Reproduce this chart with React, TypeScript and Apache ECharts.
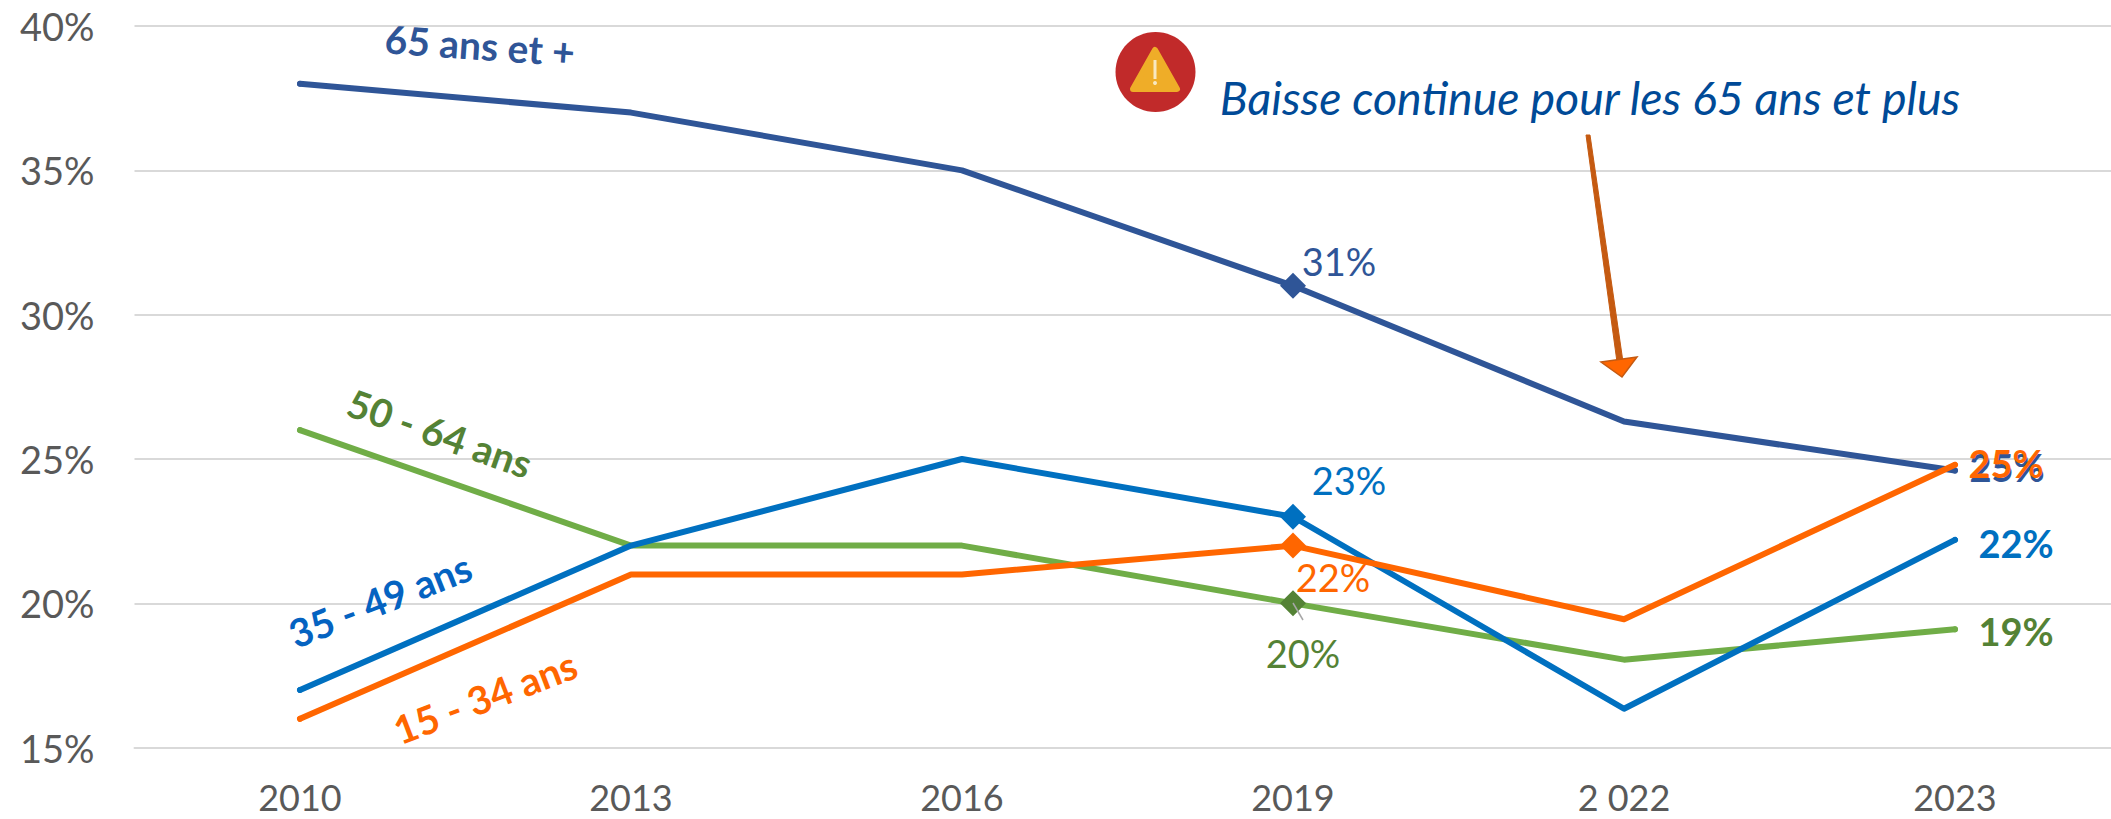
import React, { useEffect, useRef } from "react";
import * as echarts from "echarts";

const categories = ["2010", "2013", "2016", "2019", "2 022", "2023"];
const yTicks = { min: 15, max: 40, interval: 5 };
const seniors = [38, 37, 35, 31, 26.3, 24.6];
const age3549 = [17, 22, 25, 23, 16.35, 22.2];
const age5064 = [26, 22, 22, 20, 18.05, 19.1];
const age1534 = [16, 21, 21, 22, 19.45, 24.8];
const seriesNames = ["65 ans et +", "50 - 64 ans", "35 - 49 ans", "15 - 34 ans"];
const callout = "Baisse continue pour les 65 ans et plus";

const FONT = "Lato";
const FS = 38;

function pts(
  values: number[],
  lineColor: string,
  textColor: string,
  mid: [number, number],
  end: [number, number]
) {
  return values.map((v, i) => {
    if (i === 3)
      return {
        value: v,
        symbol: "diamond",
        symbolSize: 26,
        itemStyle: { color: textColor },
        label: { show: true, position: "inside", offset: mid, color: textColor, fontFamily: FONT, fontSize: FS, formatter: (p: any) => Math.round(p.value) + "%" },
      };
    if (i === 5)
      return {
        value: v,
        symbol: "circle",
        symbolSize: 6,
        itemStyle: { color: lineColor },
        label: { show: true, position: "inside", offset: end, color: textColor, fontFamily: FONT, fontSize: FS, fontWeight: "bold", formatter: (p: any) => Math.round(p.value) + "%" },
      };
    if (i === 0) return { value: v, symbol: "circle", symbolSize: 6, itemStyle: { color: lineColor } };
    return { value: v, symbol: "none" };
  });
}

function line(name: string, data: any[], color: string, z: number) {
  return {
    type: "line",
    name,
    data,
    z,
    clip: false,
    showAllSymbol: true,
    lineStyle: { color, width: 6, cap: "round", join: "round" },
    itemStyle: { color },
  };
}

function nameText(text: string, x: number, y: number, deg: number, fill: string) {
  return {
    type: "text",
    x,
    y,
    rotation: (deg * Math.PI) / 180,
    z: 20,
    style: { text, fill, fontFamily: FONT, fontSize: 39, fontWeight: "bold", textAlign: "center", textVerticalAlign: "middle" },
  };
}

export default function App() {
  const ref = useRef<HTMLDivElement>(null);
  useEffect(() => {
    document.body.style.margin = "0";
    const chart = echarts.init(ref.current!, null, { renderer: "svg" });
    chart.setOption({
      animation: false,
      backgroundColor: "#ffffff",
      grid: { left: 134.5, top: 26, width: 1986, height: 721.7, outerBoundsMode: "none", containLabel: false },
      xAxis: {
        type: "category",
        data: categories,
        boundaryGap: true,
        axisLine: { show: true, lineStyle: { color: "#D9D9D9", width: 2 } },
        axisTick: { show: false },
        axisLabel: { color: "#595959", fontFamily: FONT, fontSize: 36, lineHeight: 36, margin: 31, interval: 0 },
      },
      yAxis: {
        type: "value",
        min: yTicks.min,
        max: yTicks.max,
        interval: yTicks.interval,
        axisLine: { show: false },
        axisTick: { show: false },
        splitLine: { lineStyle: { color: "#D9D9D9", width: 2 } },
        axisLabel: { color: "#595959", fontFamily: FONT, fontSize: FS, margin: 40, formatter: "{value}%" },
      },
      series: [
        line(seriesNames[2], pts(age3549, "#0070C0", "#0070C0", [56, -37], [61, 3]), "#0070C0", 3),
        line(seriesNames[1], pts(age5064, "#70AD47", "#548235", [10, 50], [61, 2]), "#70AD47", 2),
        line(seriesNames[0], pts(seniors, "#2F5597", "#2F5597", [46, -25], [52, -4]), "#2F5597", 4),
        line(seriesNames[3], pts(age1534, "#FF6600", "#FF6600", [40, 31], [51, -2]), "#FF6600", 5),
      ],
      graphic: {
        elements: [
          nameText(seriesNames[0], 480, 45, -4, "#2F5597"),
          nameText(seriesNames[1], 440, 433, -19.5, "#548235"),
          nameText(seriesNames[2], 380, 600, 21.5, "#0563C1"),
          nameText(seriesNames[3], 485, 697, 21, "#FF6600"),
          {
            type: "line",
            z: 20,
            shape: { x1: 1293, y1: 603, x2: 1303, y2: 620 },
            style: { stroke: "#A6A6A6", lineWidth: 1.5 },
          },
          { type: "ellipse", z: 20, shape: { cx: 1155.5, cy: 72, rx: 40, ry: 40 }, style: { fill: "#C12A2A" } },
          {
            type: "polygon",
            z: 21,
            shape: { points: [[1155, 50], [1177, 89], [1133, 89]] },
            style: { fill: "#EFAD28", stroke: "#EFAD28", lineWidth: 6, lineJoin: "round" },
          },
          { type: "rect", z: 22, shape: { x: 1153.5, y: 60, width: 3, height: 19 }, style: { fill: "#F8E8C0" } },
          { type: "circle", z: 22, shape: { cx: 1155, cy: 83, r: 2 }, style: { fill: "#F8E8C0" } },
          {
            type: "text",
            z: 20,
            x: 1590,
            y: 97,
            style: { text: callout, fill: "#004A97", fontFamily: FONT, fontStyle: "italic", fontSize: 46.5, textAlign: "center", textVerticalAlign: "middle" },
          },
          {
            type: "polygon",
            z: 20,
            shape: { points: [[1586, 135], [1590, 135], [1623, 362], [1617, 362]] },
            style: { fill: "#C55A11", stroke: "#C55A11", lineWidth: 1 },
          },
          {
            type: "polygon",
            z: 21,
            shape: { points: [[1601, 362], [1637, 357], [1622, 377]] },
            style: { fill: "#FF6600", stroke: "#C55A11", lineWidth: 1.5, lineJoin: "miter" },
          },
        ],
      },
    });
    return () => chart.dispose();
  }, []);
  return <div ref={ref} style={{ width: 2111, height: 819, position: "absolute", left: 0, top: 0, overflow: "hidden" }} />;
}
